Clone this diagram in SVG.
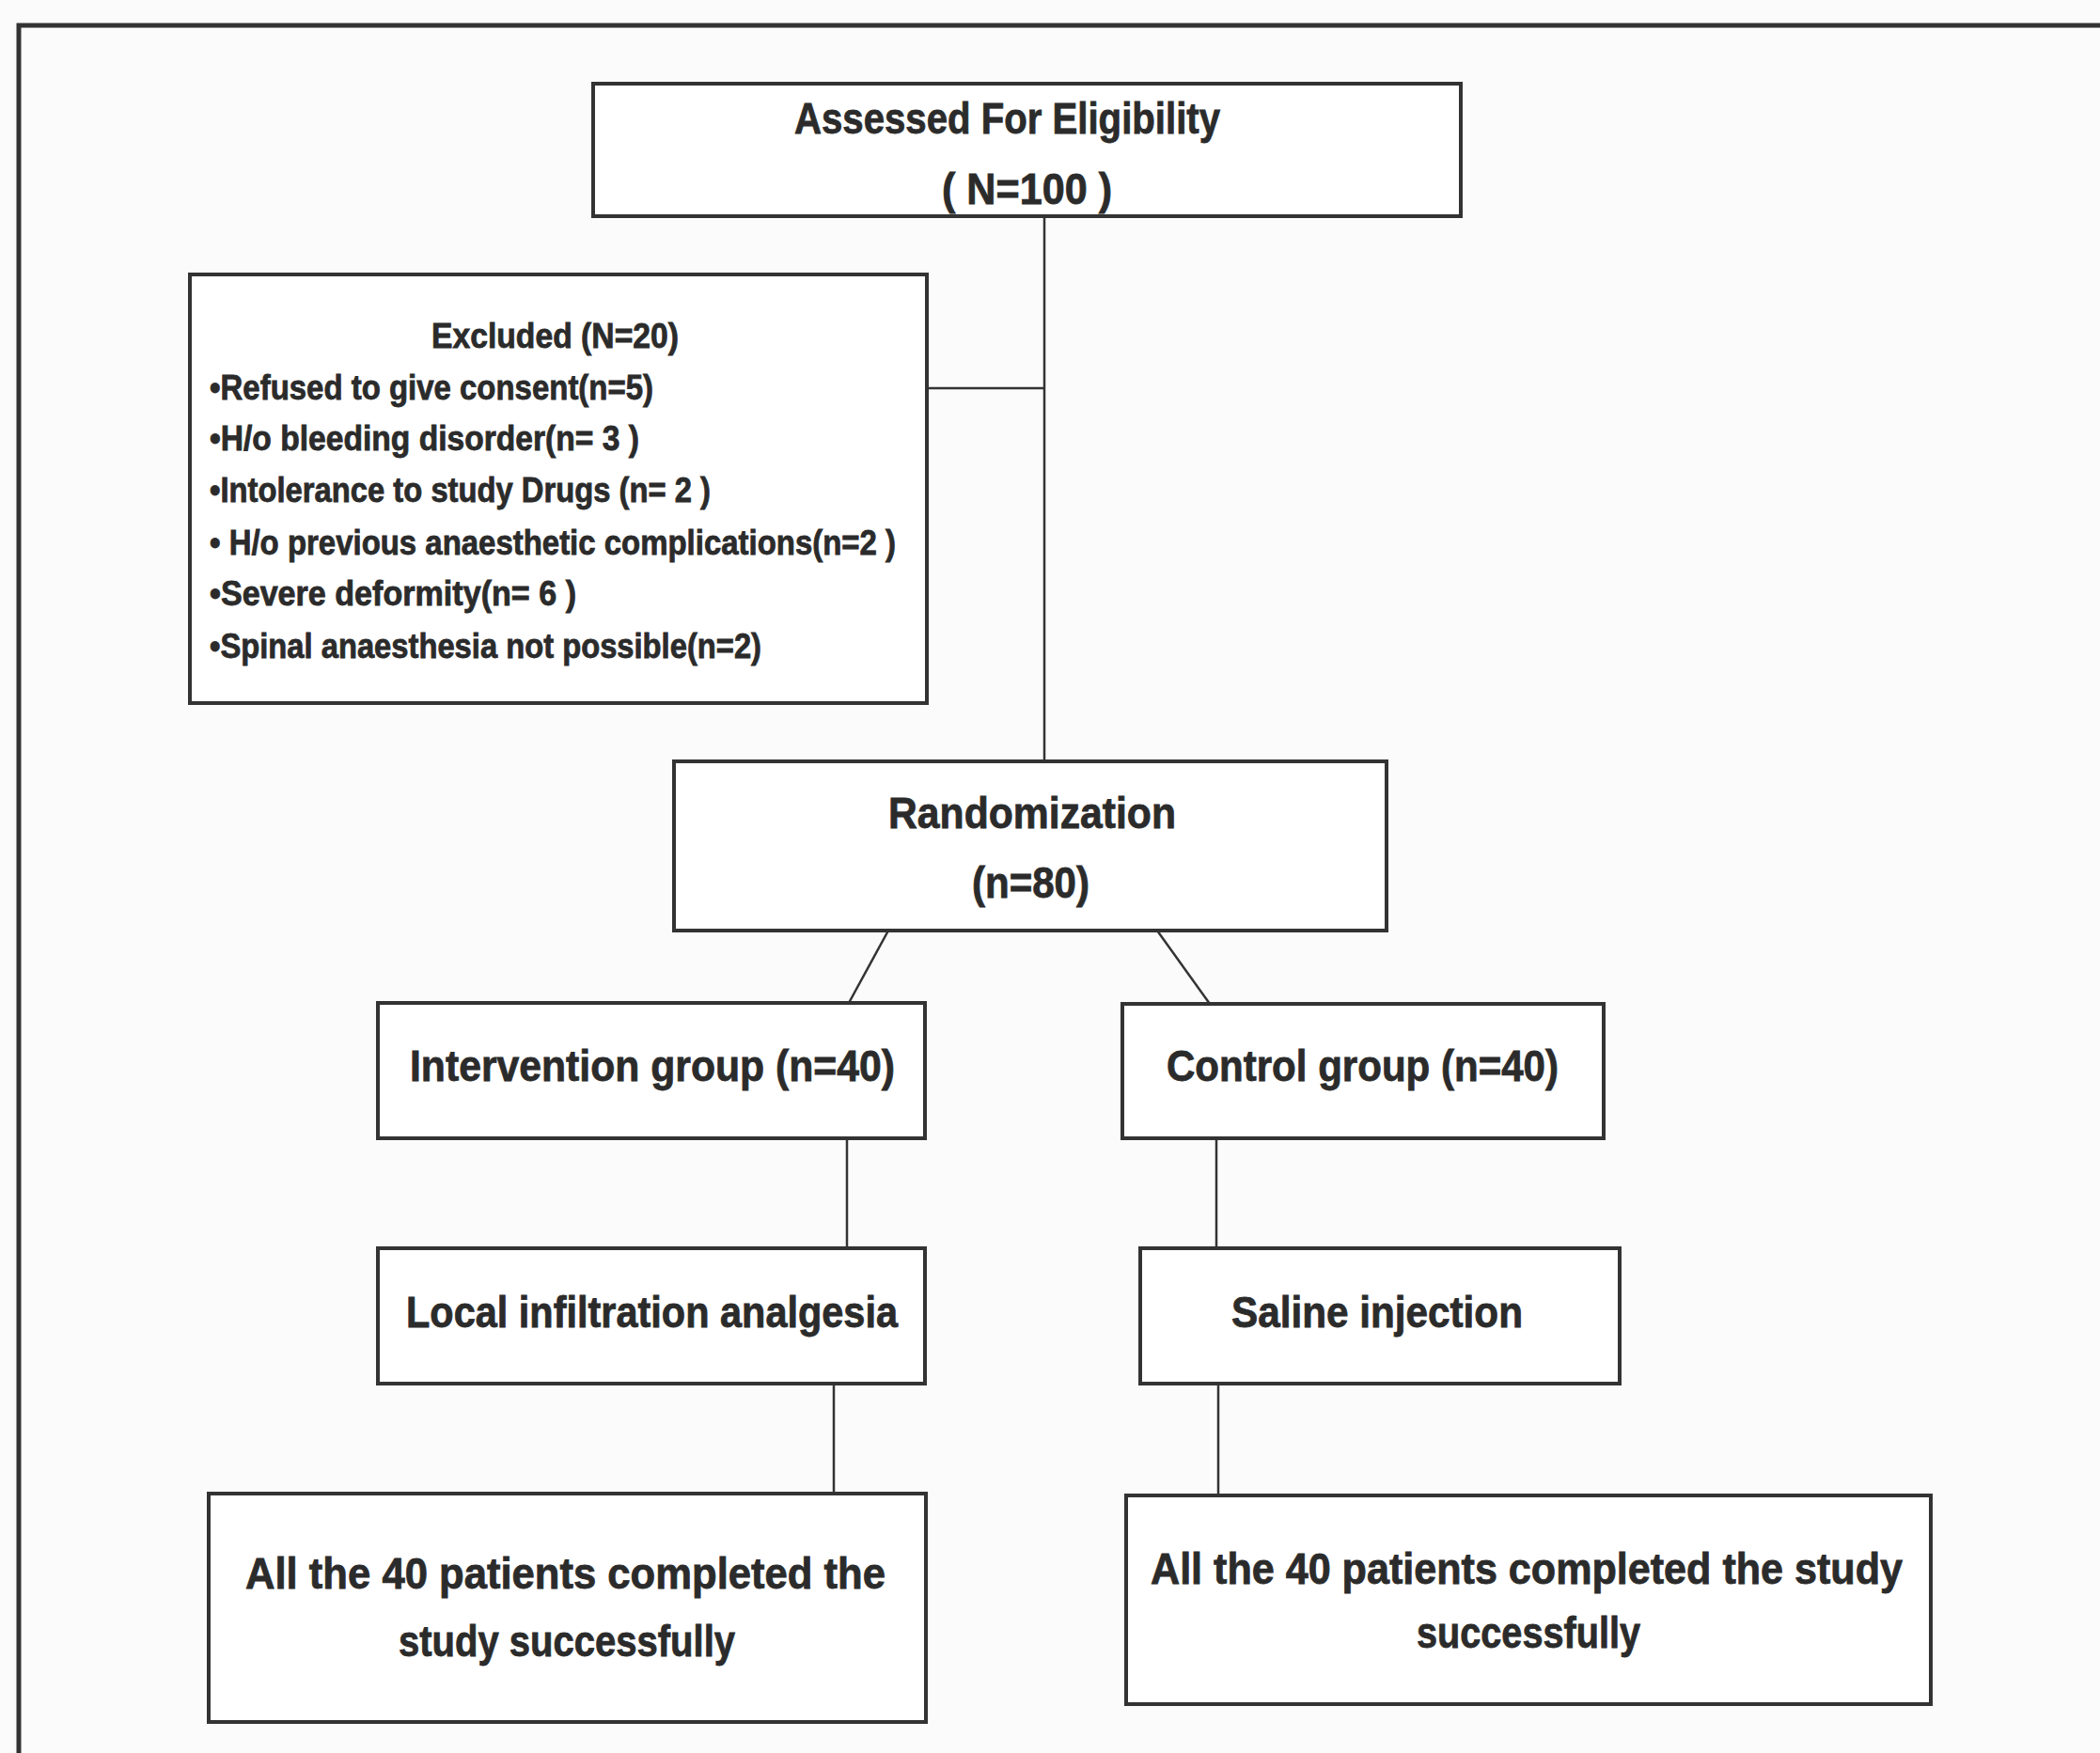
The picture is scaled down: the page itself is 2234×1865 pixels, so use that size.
<svg xmlns="http://www.w3.org/2000/svg" width="2234" height="1865" viewBox="0 0 2234 1865">
<style>
.box{fill:#ffffff;stroke:#333;stroke-width:4}
.ln{stroke:#333;stroke-width:2.5;fill:none}
.t{font-family:"Liberation Sans","Open Sans",sans-serif;font-weight:bold;fill:#2b2b2b;stroke:#2b2b2b;stroke-width:0.8}
.h{font-size:46px;text-anchor:start}
.s{font-size:36px;text-anchor:start}
</style>
<rect x="0" y="0" width="2234" height="1865" fill="#fcfbfc"/>
<path d="M20 1865 V27 H2234" fill="none" stroke="#333" stroke-width="5"/>
<g id="connectors">
<line class="ln" x1="1111" y1="230" x2="1111" y2="810"/>
<line class="ln" x1="986" y1="413" x2="1111" y2="413"/>
<line class="ln" x1="945" y1="990" x2="903" y2="1067"/>
<line class="ln" x1="1231" y1="990" x2="1287" y2="1068"/>
<line class="ln" x1="901" y1="1211" x2="901" y2="1328"/>
<line class="ln" x1="1294" y1="1211" x2="1294" y2="1328"/>
<line class="ln" x1="887" y1="1472" x2="887" y2="1589"/>
<line class="ln" x1="1296" y1="1472" x2="1296" y2="1591"/>
</g>
<g id="assessed">
<rect class="box" x="631" y="89" width="923" height="141"/>
<text class="t h" x="845" y="142" textLength="453" lengthAdjust="spacingAndGlyphs">Assessed  For Eligibility</text>
<text class="t h" x="1002" y="217" textLength="181" lengthAdjust="spacingAndGlyphs">( N=100 )</text>
</g>
<g id="excluded">
<rect class="box" x="202" y="292" width="784" height="456"/>
<text class="t s" x="459" y="370" textLength="263" lengthAdjust="spacingAndGlyphs">Excluded (N=20)</text>
<text class="t s" x="223" y="425" textLength="472" lengthAdjust="spacingAndGlyphs">•Refused to give consent(n=5)</text>
<text class="t s" x="223" y="479" textLength="457" lengthAdjust="spacingAndGlyphs">•H/o bleeding disorder(n= 3 )</text>
<text class="t s" x="223" y="534" textLength="533" lengthAdjust="spacingAndGlyphs">•Intolerance to study Drugs (n= 2 )</text>
<text class="t s" x="223" y="590" textLength="730" lengthAdjust="spacingAndGlyphs">• H/o previous anaesthetic complications(n=2 )</text>
<text class="t s" x="223" y="644" textLength="390" lengthAdjust="spacingAndGlyphs">•Severe deformity(n= 6 )</text>
<text class="t s" x="223" y="700" textLength="587" lengthAdjust="spacingAndGlyphs">•Spinal anaesthesia  not possible(n=2)</text>
</g>
<g id="randomization">
<rect class="box" x="717" y="810" width="758" height="180"/>
<text class="t h" x="945" y="881" textLength="306" lengthAdjust="spacingAndGlyphs">Randomization</text>
<text class="t h" x="1034" y="955" textLength="125" lengthAdjust="spacingAndGlyphs">(n=80)</text>
</g>
<g id="intervention">
<rect class="box" x="402" y="1067" width="582" height="144"/>
<text class="t h" x="436" y="1150" textLength="516" lengthAdjust="spacingAndGlyphs">Intervention group (n=40)</text>
</g>
<g id="control">
<rect class="box" x="1194" y="1068" width="512" height="143"/>
<text class="t h" x="1241" y="1150" textLength="417" lengthAdjust="spacingAndGlyphs">Control group (n=40)</text>
</g>
<g id="local">
<rect class="box" x="402" y="1328" width="582" height="144"/>
<text class="t h" x="432" y="1412" textLength="523" lengthAdjust="spacingAndGlyphs">Local infiltration analgesia</text>
</g>
<g id="saline">
<rect class="box" x="1213" y="1328" width="510" height="144"/>
<text class="t h" x="1310" y="1412" textLength="310" lengthAdjust="spacingAndGlyphs">Saline injection</text>
</g>
<g id="completed-left">
<rect class="box" x="222" y="1589" width="763" height="243"/>
<text class="t h" x="261" y="1690" textLength="681" lengthAdjust="spacingAndGlyphs">All the 40  patients completed the</text>
<text class="t h" x="424" y="1762" textLength="358" lengthAdjust="spacingAndGlyphs">study successfully</text>
</g>
<g id="completed-right">
<rect class="box" x="1198" y="1591" width="856" height="222"/>
<text class="t h" x="1224" y="1685" textLength="800" lengthAdjust="spacingAndGlyphs">All the 40  patients completed the study</text>
<text class="t h" x="1507" y="1753" textLength="238" lengthAdjust="spacingAndGlyphs">successfully</text>
</g>
</svg>
